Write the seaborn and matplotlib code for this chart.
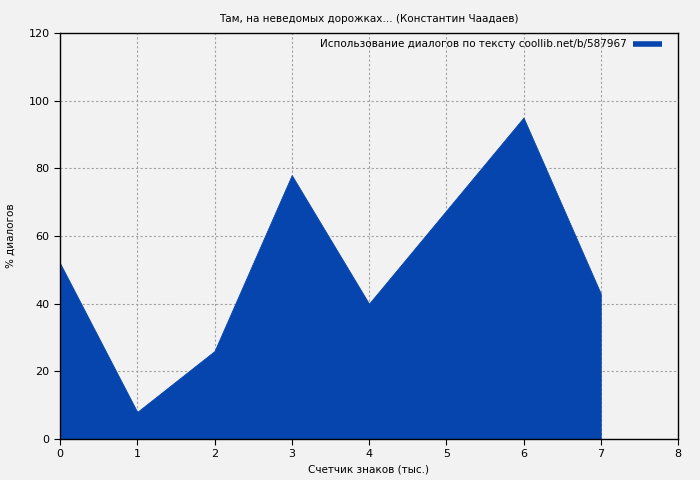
import matplotlib
matplotlib.use("Agg")
import matplotlib.pyplot as plt
import seaborn as sns
import pandas as pd
from matplotlib.lines import Line2D

# === Data ===
chars_k = [0, 1, 2, 3, 4, 5, 6, 7]
dialog_pct = [52, 8, 26, 78, 40, 67.5, 95, 43]
x_ticks = [0, 1, 2, 3, 4, 5, 6, 7, 8]
y_ticks = [0, 20, 40, 60, 80, 100, 120]

df = pd.DataFrame({"x": chars_k, "y": dialog_pct})
color = "#0645ad"
bg = "#f2f2f2"

sns.set_style("ticks")
plt.rcParams['font.family'] = ['DejaVu Sans']
plt.rcParams['text.color'] = 'black'
plt.rcParams['axes.labelcolor'] = 'black'

fig = plt.figure(figsize=(7, 4.8), dpi=100, facecolor=bg)
ax = fig.add_axes([60 / 700, 1 - 439 / 480, 618 / 700, 406 / 480])
ax.set_facecolor(bg)

# area under the line
sns.lineplot(data=df, x="x", y="y", ax=ax, color=color, linewidth=0, zorder=2)
ax.fill_between(df["x"], df["y"], 0, facecolor=color, edgecolor=color,
                linewidth=0.6, zorder=2)

ax.set_xlim(0, 8)
ax.set_ylim(0, 120)
ax.set_xticks(x_ticks)
ax.set_yticks(y_ticks)
ax.grid(True, color="#a0a0a0", linestyle=(0, (2, 2)), linewidth=0.8, zorder=0)
ax.set_axisbelow(True)
for s in ax.spines.values():
    s.set_color("black")
    s.set_linewidth(1)
    s.set_zorder(3)
ax.tick_params(labelsize=8, direction="out", length=4, color="black", labelcolor="black")

ax.set_title("Там, на неведомых дорожках… (Константин Чаадаев)", fontsize=7.5, pad=8)
ax.set_xlabel("Счетчик знаков (тыс.)", fontsize=7.5)
ax.set_ylabel("% диалогов", fontsize=7.5, labelpad=9)

handle = Line2D([0], [0], color=color, linewidth=4, solid_capstyle="butt")
ax.legend([handle], ["Использование диалогов по тексту coollib.net/b/587967"],
          loc="upper right", frameon=False, fontsize=7.5, markerfirst=False,
          handlelength=2.8, handletextpad=0.6, borderaxespad=0.2,
          bbox_to_anchor=(0.985, 1.0))

fig.savefig("out.png", dpi=100, facecolor=bg)
